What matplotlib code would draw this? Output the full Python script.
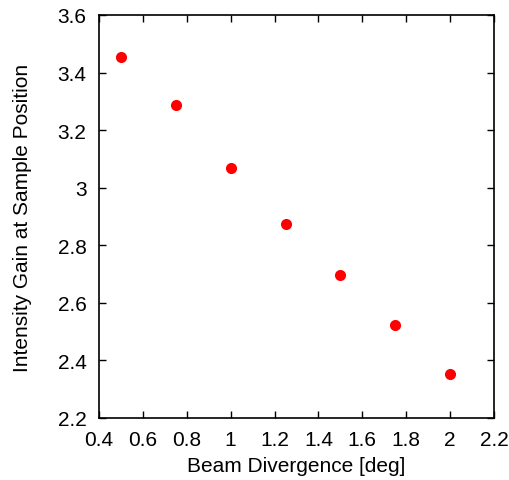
import matplotlib
matplotlib.use("Agg")
import matplotlib.pyplot as plt

divergence = [0.5, 0.75, 1.0, 1.25, 1.5, 1.75, 2.0]
gain = [3.454, 3.287, 3.069, 2.874, 2.697, 2.523, 2.352]

plt.rcParams["font.family"] = ["Liberation Sans", "DejaVu Sans"]

fig = plt.figure(figsize=(5.1, 4.81), dpi=100)
ax = fig.add_axes([99 / 510, 1 - 419 / 481, 395 / 510, 403 / 481])
ax.plot(divergence, gain, "o", color="#ff0000", markersize=8, markeredgewidth=0)

ax.set_xlim(0.4, 2.2)
ax.set_ylim(2.2, 3.6)
ax.set_xticks([0.4, 0.6, 0.8, 1.0, 1.2, 1.4, 1.6, 1.8, 2.0, 2.2])
ax.set_xticklabels(["0.4", "0.6", "0.8", "1", "1.2", "1.4", "1.6", "1.8", "2", "2.2"])
ax.set_yticks([2.2, 2.4, 2.6, 2.8, 3.0, 3.2, 3.4, 3.6])
ax.set_yticklabels(["2.2", "2.4", "2.6", "2.8", "3", "3.2", "3.4", "3.6"])
ax.tick_params(direction="in", top=True, right=True, length=5, width=1,
               labelsize=15, pad=9)
for s in ax.spines.values():
    s.set_linewidth(1.2)
ax.set_xlabel("Beam Divergence [deg]", fontsize=15, labelpad=5)
ax.set_ylabel("Intensity Gain at Sample Position", fontsize=15, labelpad=18)

fig.savefig("out.png", dpi=100)
